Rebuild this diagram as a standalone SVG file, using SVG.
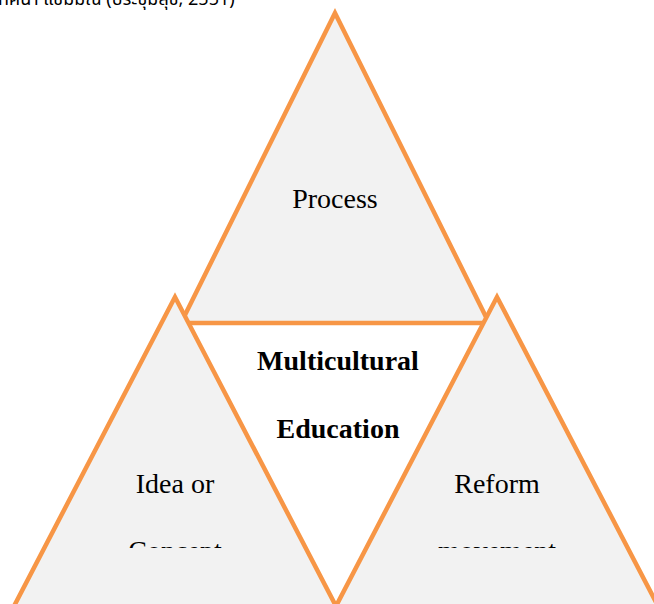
<svg xmlns="http://www.w3.org/2000/svg" width="654" height="604" viewBox="0 0 654 604">
<defs>
<style>
.tri{fill:#f2f2f2;stroke:#f79646;stroke-width:4.5;stroke-linejoin:miter}
.lbl{font-family:"Liberation Serif","Times New Roman",serif;font-size:28px;fill:#000;text-anchor:middle}
.b{font-weight:bold}
.cap{font-family:"Noto Sans Thai","Noto Sans","DejaVu Sans",sans-serif;font-size:18px;fill:#000}
</style>
<clipPath id="clipLow"><rect x="0" y="0" width="654" height="548"/></clipPath>
</defs>
<rect width="654" height="604" fill="#ffffff"/>
<text class="cap" x="-2" y="5">ทิศนา แขมมณี (ประชุมสุข, 2551)</text>
<g id="top-process">
<polygon class="tri" points="335,13 181,323 489,323"/>
<text class="lbl" x="335" y="208">Process</text>
</g>
<g id="left-idea">
<polygon class="tri" points="175,297 12,610 338,610"/>
<text class="lbl" x="175" y="493">Idea or</text>
<text class="lbl" x="175" y="560" clip-path="url(#clipLow)">Concept</text>
</g>
<g id="right-reform">
<polygon class="tri" points="497,297 334,610 660,610"/>
<text class="lbl" x="497" y="493">Reform</text>
<text class="lbl" x="497" y="560" clip-path="url(#clipLow)">movement</text>
</g>
<g id="center-multicultural">
<text class="lbl b" x="338" y="370">Multicultural</text>
<text class="lbl b" x="338" y="438">Education</text>
</g>
<g id="connectors"></g>
</svg>
